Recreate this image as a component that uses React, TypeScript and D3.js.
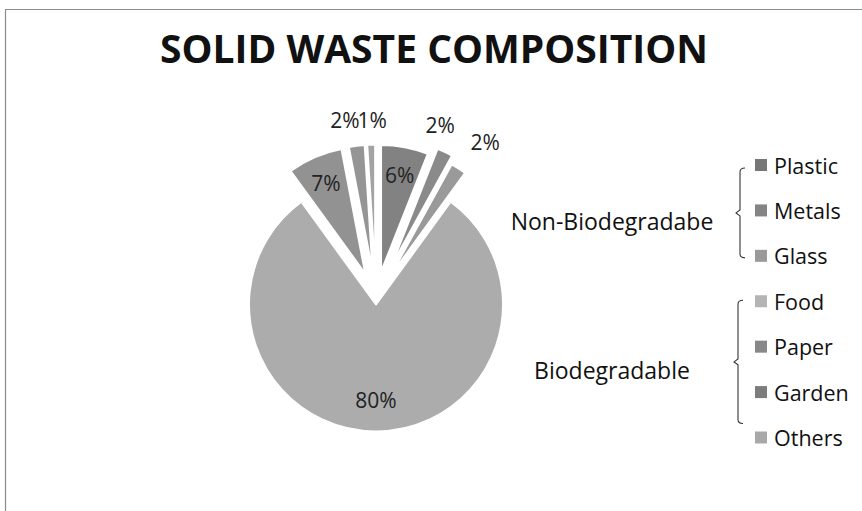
import { useEffect, useRef } from 'react';
import { select, pie, arc, scalePoint } from 'd3';

// chart data
const title = 'SOLID WASTE COMPOSITION';
const categories = ['Plastic', 'Metals', 'Glass', 'Food', 'Paper', 'Garden', 'Others'];
const shares = [6, 2, 2, 80, 7, 2, 1];
const groupNames = ['Non-Biodegradabe', 'Biodegradable'];
const groupMembers = [
  ['Plastic', 'Metals', 'Glass'],
  ['Food', 'Paper', 'Garden', 'Others'],
];

// styling
const sliceColors: Record<string, string> = {
  Plastic: '#828282',
  Metals: '#8a8a8a',
  Glass: '#9a9a9a',
  Food: '#acacac',
  Paper: '#929292',
  Garden: '#959595',
  Others: '#a3a3a3',
};
const swatchColors: Record<string, string> = {
  Plastic: '#767676',
  Metals: '#848484',
  Glass: '#999999',
  Food: '#b4b4b4',
  Paper: '#888888',
  Garden: '#7c7c7c',
  Others: '#a8a8a8',
};
const explode: Record<string, number> = {
  Plastic: 27, Metals: 35, Glass: 27, Food: 6, Paper: 27, Garden: 27, Others: 27,
};
const outsideLabels = ['Metals', 'Glass', 'Garden', 'Others'];
const labelNudge: Record<string, [number, number]> = {
  Metals: [-18, -3], Glass: [10, -5], Garden: [-8, 0], Others: [2, 1],
};
const FONT = "'Open Sans', sans-serif";

export default function App() {
  const svgRef = useRef<SVGSVGElement>(null);

  useEffect(() => {
    if (!svgRef.current) return;
    const width = 862;
    const height = 511;
    const svg = select(svgRef.current).attr('width', width).attr('height', height);
    svg.selectAll('*').remove();

    svg.append('rect').attr('width', width).attr('height', height).attr('fill', '#fff');

    // chart frame (only top and left edges visible)
    svg.append('path')
      .attr('d', `M5.5,${height} L5.5,9.5 L${width},9.5`)
      .attr('fill', 'none')
      .attr('stroke', '#8c8c8c')
      .attr('stroke-width', 1.2);

    svg.append('text')
      .attr('x', 434)
      .attr('y', 63)
      .attr('text-anchor', 'middle')
      .attr('font-family', FONT)
      .attr('font-weight', 700)
      .attr('font-size', 39)
      .attr('fill', '#111')
      .text(title);

    // pie
    const cx = 376;
    const cy = 298.5;
    const r = 127;
    const data = categories.map((c, i) => ({ name: c, value: shares[i] }));
    const arcs = pie<{ name: string; value: number }>()
      .sort(null)
      .value((d) => d.value)
      .startAngle(0)
      .endAngle(Math.PI * 2)(data);
    const arcGen = arc<any>().innerRadius(0).outerRadius(r);

    const g = svg.append('g').attr('transform', `translate(${cx},${cy})`);
    const offset = (d: any) => {
      const mid = (d.startAngle + d.endAngle) / 2;
      const e = explode[d.data.name];
      return [e * Math.sin(mid), -e * Math.cos(mid)];
    };

    g.selectAll('path.slice')
      .data(arcs)
      .enter()
      .append('path')
      .attr('class', 'slice')
      .attr('transform', (d) => `translate(${offset(d).join(',')})`)
      .attr('d', arcGen)
      .attr('fill', (d) => sliceColors[d.data.name])
      .attr('stroke', '#fff')
      .attr('stroke-width', 2)
      .attr('stroke-linejoin', 'round');

    // percentage labels
    g.selectAll('text.pct')
      .data(arcs)
      .enter()
      .append('text')
      .attr('class', 'pct')
      .attr('font-family', FONT)
      .attr('font-size', 21)
      .attr('fill', '#222')
      .attr('text-anchor', 'middle')
      .attr('dominant-baseline', 'central')
      .attr('x', (d) => {
        const mid = (d.startAngle + d.endAngle) / 2;
        const [ox] = offset(d);
        if (outsideLabels.includes(d.data.name)) {
          const px = ox + (r + 16) * Math.sin(mid);
          return px + 15 * Math.sin(mid) + labelNudge[d.data.name][0];
        }
        const k = d.data.name === 'Food' ? 0.75 : 0.78;
        return ox + k * r * Math.sin(mid);
      })
      .attr('y', (d) => {
        const mid = (d.startAngle + d.endAngle) / 2;
        const [, oy] = offset(d);
        if (outsideLabels.includes(d.data.name)) {
          const py = oy - (r + 16) * Math.cos(mid);
          return py - 10 * Math.cos(mid) + labelNudge[d.data.name][1];
        }
        const k = d.data.name === 'Food' ? 0.75 : 0.78;
        return oy - k * r * Math.cos(mid);
      })
      .text((d) => `${d.data.value}%`);

    // legend
    const rowY = scalePoint<string>().domain(categories).range([165, 437.5]);
    const legend = svg.append('g');
    categories.forEach((c) => {
      const y = rowY(c) || 0;
      legend.append('rect')
        .attr('x', 755)
        .attr('y', y - 6)
        .attr('width', 12)
        .attr('height', 12)
        .attr('fill', swatchColors[c]);
      legend.append('text')
        .attr('x', 774)
        .attr('y', y)
        .attr('dominant-baseline', 'central')
        .attr('font-family', FONT)
        .attr('font-size', 21.5)
        .attr('fill', '#111')
        .text(c);
    });

    // group brackets
    groupMembers.forEach((members, gi) => {
      const first = rowY(members[0]) || 0;
      const last = rowY(members[members.length - 1]) || 0;
      const top = first + (gi === 0 ? 3 : -1);
      const bottom = gi === 0 ? last + 2 : last - 14;
      const x = gi === 0 ? 740 : 738;
      const mid = (top + bottom) / 2;
      legend.append('path')
        .attr('d', `M${x + 5},${top} Q${x},${top} ${x},${top + 4} L${x},${mid - 3} L${x - 4},${mid} L${x},${mid + 3} L${x},${bottom - 4} Q${x},${bottom} ${x + 5},${bottom}`)
        .attr('fill', 'none')
        .attr('stroke', '#333')
        .attr('stroke-width', 1.1);
      legend.append('text')
        .attr('x', 612)
        .attr('y', mid + 8)
        .attr('text-anchor', 'middle')
        .attr('dominant-baseline', 'central')
        .attr('font-family', FONT)
        .attr('font-size', 23)
        .attr('fill', '#111')
        .text(groupNames[gi]);
    });
  }, []);

  return (
    <div style={{ position: 'absolute', left: 0, top: 0 }}>
      <svg ref={svgRef} style={{ display: 'block' }} />
    </div>
  );
}
